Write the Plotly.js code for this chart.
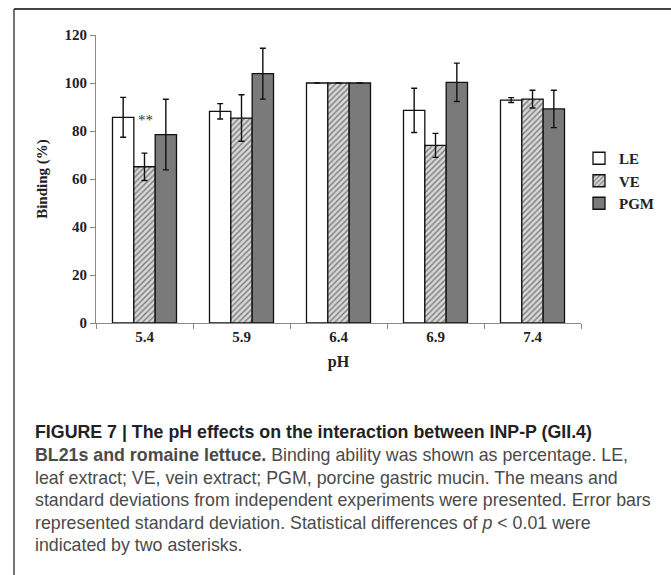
<!DOCTYPE html>
<html>
<head>
<meta charset="utf-8">
<script src="https://cdn.plot.ly/plotly-3.0.1.min.js"></script>
<style>
html,body{margin:0;padding:0;background:#fff;}
#chart{width:671px;height:575px;}
</style>
</head>
<body>
<div id="chart"></div>
<script>
const categories = ["5.4", "5.9", "6.4", "6.9", "7.4"];
const seriesNames = ["LE", "VE", "PGM"];
const leValues = [85.7, 88.2, 100, 88.6, 92.9];
const leErrors = [8.3, 3.2, 0, 9.2, 1.0];
const veValues = [65.1, 85.4, 100, 74.0, 93.3];
const veErrors = [5.7, 9.7, 0, 5.0, 3.7];
const pgmValues = [78.5, 103.9, 100, 100.3, 89.2];
const pgmErrors = [14.7, 10.6, 0, 8.0, 7.8];
const yTicks = [0, 20, 40, 60, 80, 100, 120];
const captionLines = [
  "<b>FIGURE 7 | The pH effects on the interaction between INP-P (GII.4)</b>",
  "<b>BL21s and romaine lettuce.</b> Binding ability was shown as percentage. LE,",
  "leaf extract; VE, vein extract; PGM, porcine gastric mucin. The means and",
  "standard deviations from independent experiments were presented. Error bars",
  "represented standard deviation. Statistical differences of <i>p</i> < 0.01 were",
  "indicated by two asterisks."
];

const W = 671, H = 575;
const ML = 96, MR = 90, MT = 35, MB = 252;
const PW = W - ML - MR, PH = H - MT - MB;
const px = x => (x - ML) / PW;
const py = y => (H - MB - y) / PH;

const serif = "Liberation Serif, Times New Roman, serif";
const sans = "Liberation Sans, Arial, sans-serif";

function errBar(arr) {
  return {type: "data", array: arr, visible: true, color: "#111", thickness: 1.4, width: 3};
}
const outline = {color: "#111", width: 1.3};

const traces = [
  {type: "bar", name: seriesNames[0], x: categories, y: leValues, error_y: errBar(leErrors),
   marker: {color: "#ffffff", line: outline}},
  {type: "bar", name: seriesNames[1], x: categories, y: veValues, error_y: errBar(veErrors),
   marker: {color: "#d0d0d0", line: outline,
     pattern: {shape: "/", fgcolor: "#7a7a7a", bgcolor: "#d8d8d8", size: 4, solidity: 0.35}}},
  {type: "bar", name: seriesNames[2], x: categories, y: pgmValues, error_y: errBar(pgmErrors),
   marker: {color: "#7a7a7a", line: outline}}
];

const annotations = [
  {xref: "x", yref: "y", x: 0, y: 84.5, text: "**", showarrow: false,
   font: {family: serif, size: 15, color: "#333"}, xshift: 1}
];
const lineY = [432, 455, 477.5, 500, 522.5, 545];
captionLines.forEach((t, i) => {
  annotations.push({xref: "paper", yref: "paper", x: px(33), y: py(lineY[i]),
    xanchor: "left", yanchor: "middle", align: "left", showarrow: false, text: t,
    font: {family: sans, size: 17.8, color: i === 0 ? "#222" : "#4a4a4a"}});
});

const layout = {
  width: W, height: H,
  margin: {l: ML, r: MR, t: MT, b: MB, pad: 0},
  paper_bgcolor: "#ffffff", plot_bgcolor: "#ffffff",
  barmode: "group", bargap: 0.34, bargroupgap: 0,
  showlegend: true,
  legend: {x: px(579), y: py(142), xanchor: "left", yanchor: "top",
    font: {family: serif, size: 15, color: "#222", weight: "bold"},
    itemwidth: 30, tracegroupgap: 0, bgcolor: "rgba(0,0,0,0)"},
  xaxis: {type: "category", range: [-0.5, 4.5], showline: true, linecolor: "#8a8a8a", linewidth: 1,
    ticks: "outside", tickson: "boundaries", ticklen: 5, tickcolor: "#8a8a8a",
    tickfont: {family: serif, size: 15, color: "#222", weight: "bold"},
    title: {text: "<b>pH</b>", font: {family: serif, size: 16, color: "#222"}, standoff: 11},
    showgrid: false, zeroline: false},
  yaxis: {range: [0, 120], tickvals: yTicks, showline: true, linecolor: "#8a8a8a", linewidth: 1,
    ticks: "outside", ticklen: 5, tickcolor: "#8a8a8a",
    tickfont: {family: serif, size: 15, color: "#222", weight: "bold"},
    title: {text: "<b>Binding (%)</b>", font: {family: serif, size: 15, color: "#222"}, standoff: 13},
    showgrid: false, zeroline: false},
  annotations: annotations,
  shapes: [
    {type: "line", xref: "paper", yref: "paper", x0: px(14), x1: px(671), y0: py(9), y1: py(9),
     line: {color: "#444", width: 2}},
    {type: "line", xref: "paper", yref: "paper", x0: px(14), x1: px(14), y0: py(9), y1: py(575),
     line: {color: "#444", width: 1.5}}
  ]
};

Plotly.newPlot("chart", traces, layout, {displayModeBar: false, staticPlot: true});
</script>
</body>
</html>
